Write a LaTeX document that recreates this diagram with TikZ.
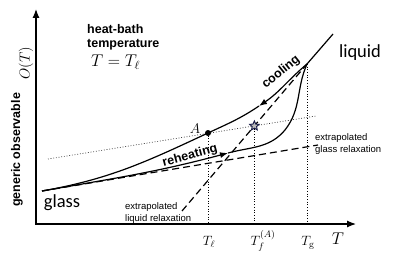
\documentclass[tikz,border=0pt]{standalone}
\usepackage{fix-cm}
\usepackage{amsmath}
\usepackage{fontspec}
\usepackage{tikz}
\usetikzlibrary{arrows.meta, shapes.geometric, calc, positioning}
\newfontfamily\arialf{Liberation Sans}
\newfontfamily\calif{Carlito}
\definecolor{starnavy}{RGB}{22,26,72}

\begin{document}
\begin{tikzpicture}[x=1pt, y=1pt,
    axis/.style={line width=1.2pt, {Latex[length=9pt,width=7pt]}-{Latex[length=9pt,width=7pt]}},
    curve/.style={line width=1.2pt},
    tip/.style={-{Latex[length=8pt,width=6pt]}},
    extra/.style={line width=1.2pt, dash pattern=on 7pt off 4pt},
    guide/.style={line width=0.7pt, dotted},
    boldlab/.style={font=\arialf\bfseries\fontsize{12.5}{14.5}\selectfont},
    smalllab/.style={font=\arialf\fontsize{9.5}{11.5}\selectfont, align=left, inner sep=0pt, anchor=west},
    phase/.style={font=\calif\fontsize{18.5}{20}\selectfont},
    templab/.style={font=\fontsize{13.5}{15}\selectfont, anchor=base, inner sep=0pt}]
        \useasboundingbox (0,0) rectangle (395,260);
        \coordinate (O) at (36,36);
        \coordinate (Ytop) at (36,251);
        \coordinate (Xend) at (356,36);
        \coordinate (G) at (42,69);
        \coordinate (A) at (208,127);
        \coordinate (J) at (307,196);
        \coordinate (L) at (333,226);
        \coordinate (Cc) at (259,154);
        \coordinate (Rh) at (228,107);
        \coordinate (K) at (285,130);
        \coordinate (Ls) at (182,49);
        \coordinate (Ge) at (318,115);
        \coordinate (D1) at (48,101);
        \coordinate (D2) at (316,144);
        \coordinate (S) at (intersection of D1--D2 and Ls--J);

        \draw[axis] (Ytop) -- (O) -- (Xend);

        \draw[guide] (D1) -- (D2);
        \draw[guide] (A) -- (A |- O);
        \draw[guide] (S) -- (S |- O);
        \draw[guide] (J) -- (J |- O);

        \draw[extra] (G) -- (Ge);
        \draw[extra] (Ls) -- (J);

        \draw[curve, tip] (L) -- (J) to[out=220, in=34] (Cc);
        \draw[curve] (Cc) to[out=214, in=25] (A) to[out=205, in=10] (G);
        \draw[curve, tip] (G) to[out=10, in=195] (Rh);
        \draw[curve] (Rh) to[out=15, in=230] (K) to[out=52, in=246] (J);

        \node[circle, fill, inner sep=0pt, minimum size=6pt] (Am) at (A) {};
        \node[font=\fontsize{14}{16}\selectfont, left=1pt of Am, yshift=4pt] (Alab) {$A$};
        \node[star, star points=5, star point ratio=2.2, draw=starnavy, fill=gray!55,
            line width=0.9pt, minimum size=10pt, inner sep=0pt] (Sm) at (S) {};

        \node[boldlab, rotate=39] (cool) at (281,188) {cooling};
        \node[boldlab, rotate=15] (reheat) at (190,104) {reheating};
        \node[phase] (liq) at (360,207) {liquid};
        \node[phase] (gla) at (62,57) {glass};
        \node[smalllab] (xg) at (315,116) {extrapolated\\glass relaxation};
        \node[smalllab] (xl) at (125,47) {extrapolated\\liquid relaxation};

        \node[boldlab, align=left, anchor=north west, inner sep=0pt] (hb) at (87,236) {heat-bath\\temperature};
        \node[font=\fontsize{17}{20}\selectfont, anchor=west, inner sep=0pt] (Tbath) at (91,198) {$T = T_\ell$};

        \node[boldlab, rotate=90] (ylab) at (17,110) {generic observable};
        \node[font=\fontsize{14.5}{16}\selectfont, rotate=90] (yO) at (26,197) {$O(T)$};

        \node[templab] (tl) at (209,15) {$T_\ell$};
        \node[templab] (tf) at (263,15) {$T_f^{(A)}$};
        \node[templab] (tg) at (308,15) {$T_{\mathrm{g}}$};
        \node[templab, font=\fontsize{17}{20}\selectfont] (tT) at (338,16) {$T$};
    \end{tikzpicture}
\end{document}
